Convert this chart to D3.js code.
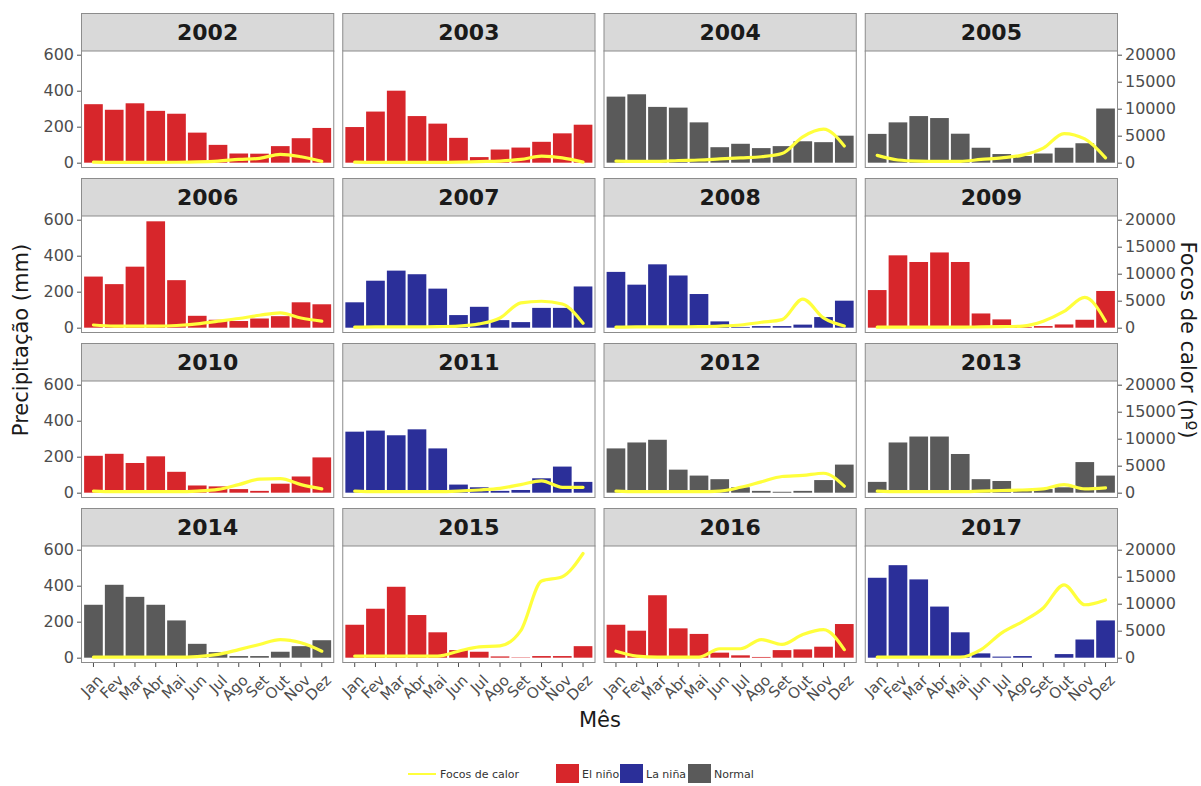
<!DOCTYPE html>
<html>
<head>
<meta charset="utf-8">
<script src="https://cdn.jsdelivr.net/npm/d3@7"></script>
<style>
  body { margin: 0; background: #ffffff; }
  svg text { font-family: "DejaVu Sans", Verdana, sans-serif; }
</style>
</head>
<body>
<svg id="chart" width="1201" height="786"></svg>
<script>
// Monthly rainfall (mm) and fire hotspots (count) per year, with the ENSO phase of each year.
const years = [2002, 2003, 2004, 2005, 2006, 2007, 2008, 2009, 2010, 2011, 2012, 2013, 2014, 2015, 2016, 2017];
const months = ["Jan", "Fev", "Mar", "Abr", "Mai", "Jun", "Jul", "Ago", "Set", "Out", "Nov", "Dez"];
const phases = ["El niño", "El niño", "Normal", "Normal", "El niño", "La niña", "La niña", "El niño",
                "El niño", "La niña", "Normal", "Normal", "Normal", "El niño", "El niño", "La niña"];
const phaseNames = ["El niño", "La niña", "Normal"];
const phaseColors = ["#d7262b", "#2b2f99", "#5a5a5a"];

const precipitation = [
  [325, 294, 330, 288, 272, 167, 99, 51, 50, 92, 136, 193],
  [198, 284, 400, 259, 217, 138, 31, 73, 84, 116, 163, 211],
  [367, 380, 310, 306, 224, 86, 105, 81, 92, 119, 114, 150],
  [160, 224, 259, 248, 161, 83, 48, 37, 51, 83, 108, 301],
  [284, 242, 339, 591, 264, 66, 44, 37, 51, 64, 141, 130],
  [141, 261, 317, 297, 217, 70, 116, 42, 31, 110, 110, 229],
  [310, 239, 352, 290, 187, 35, 4, 9, 9, 17, 59, 150],
  [209, 402, 365, 418, 365, 79, 46, 4, 9, 18, 44, 204],
  [205, 216, 165, 202, 116, 40, 35, 20, 10, 50, 90, 196],
  [339, 345, 319, 352, 246, 45, 30, 10, 15, 80, 145, 60],
  [246, 279, 294, 128, 95, 75, 30, 10, 5, 10, 70, 156],
  [60, 279, 312, 312, 215, 75, 65, 10, 20, 30, 170, 95],
  [294, 405, 338, 294, 207, 77, 31, 9, 9, 33, 64, 97],
  [183, 272, 394, 237, 141, 42, 33, 7, 2, 9, 9, 64],
  [183, 150, 347, 163, 132, 28, 13, 4, 42, 46, 61, 187],
  [444, 514, 435, 284, 141, 24, 6, 9, 0, 20, 101, 207]
];

const fireFoci = [
  [100, 50, 50, 50, 80, 150, 300, 600, 800, 1550, 1100, 250],
  [100, 50, 50, 50, 50, 100, 200, 300, 600, 1200, 900, 100],
  [300, 250, 250, 400, 500, 700, 900, 1100, 1700, 4800, 6200, 3100],
  [1350, 500, 300, 250, 250, 600, 900, 1400, 2700, 5400, 4400, 900],
  [500, 300, 300, 300, 400, 700, 1200, 1700, 2300, 2750, 1800, 1200],
  [100, 150, 150, 150, 200, 300, 700, 1800, 4600, 4900, 4400, 800],
  [100, 150, 150, 150, 200, 300, 500, 1000, 1500, 5300, 1800, 300],
  [100, 100, 100, 100, 100, 150, 200, 300, 1200, 3000, 5600, 1200],
  [300, 200, 200, 200, 200, 300, 600, 1500, 2500, 2600, 1500, 700],
  [300, 200, 200, 200, 200, 300, 500, 800, 1500, 2200, 1000, 1000],
  [300, 200, 200, 200, 200, 300, 1000, 2000, 3000, 3200, 3600, 1200],
  [300, 200, 200, 200, 200, 300, 400, 500, 700, 1500, 700, 900],
  [100, 100, 100, 100, 100, 200, 600, 1500, 2450, 3350, 2750, 1200],
  [300, 300, 300, 300, 300, 1200, 2000, 2200, 5000, 14200, 15000, 19300],
  [1200, 300, 100, 100, 100, 1650, 1650, 3350, 2450, 4300, 5200, 1500],
  [100, 100, 100, 100, 100, 1500, 4600, 6700, 9200, 13500, 9800, 10700]
];

const precipTicks = [0, 200, 400, 600];
const fireTicks = [0, 5000, 10000, 15000, 20000];

// Secondary axis: hotspot counts share the panel with rainfall through a fixed ratio.
const fireRatio = 20000 / 600;

// Facet grid geometry
const nCols = 4;
const gridLeft = 81, gridRight = 1118, gapX = 8;
const panelW = (gridRight - gridLeft - gapX * (nCols - 1)) / nCols;
const gridTop = 13, stripH = 38, panelH = 117, rowStep = 165;

const svg = d3.select("#chart");

const maxP = d3.max(precipitation.flat());
const pad = maxP * 0.05;
const y = d3.scaleLinear().domain([-pad, maxP + pad]).range([panelH, 0]);
const yFire = d3.scaleLinear().domain([-pad * fireRatio, (maxP + pad) * fireRatio]).range([panelH, 0]);
const x = d3.scaleBand().domain(months).range([0, panelW]).paddingInner(0.1).paddingOuter(0.15);
const color = d3.scaleOrdinal().domain(phaseNames).range(phaseColors);

const line = d3.line()
  .x((d, i) => x(months[i]) + x.bandwidth() / 2)
  .y(d => yFire(d))
  .curve(d3.curveMonotoneX);

years.forEach((yr, k) => {
  const col = k % nCols, row = Math.floor(k / nCols);
  const px = gridLeft + col * (panelW + gapX);
  const sy = gridTop + row * rowStep;
  const g = svg.append("g").attr("transform", `translate(${px},${sy})`);

  // strip
  g.append("rect").attr("x", 0.5).attr("y", 0.5).attr("width", panelW - 1).attr("height", stripH)
    .attr("fill", "#d9d9d9").attr("stroke", "#8c8c8c").attr("stroke-width", 1);
  g.append("text").attr("x", panelW / 2).attr("y", stripH / 2 + 8)
    .attr("text-anchor", "middle").attr("font-size", 22).attr("font-weight", "bold")
    .attr("fill", "#1a1a1a").text(yr);

  const p = g.append("g").attr("transform", `translate(0,${stripH})`);
  p.append("rect").attr("width", panelW).attr("height", panelH).attr("fill", "#ffffff");

  p.selectAll("rect.bar").data(precipitation[k]).join("rect").attr("class", "bar")
    .attr("x", (d, i) => x(months[i]))
    .attr("width", x.bandwidth())
    .attr("y", d => y(d))
    .attr("height", d => y(0) - y(d))
    .attr("fill", color(phases[k]));

  p.append("path").datum(fireFoci[k]).attr("d", line)
    .attr("fill", "none").attr("stroke", "#ffff3c").attr("stroke-width", 3.2)
    .attr("stroke-linejoin", "round").attr("stroke-linecap", "round");

  p.append("rect").attr("x", 0.5).attr("y", 0).attr("width", panelW - 1).attr("height", panelH - 0.5)
    .attr("fill", "none").attr("stroke", "#8c8c8c").attr("stroke-width", 1);

  const styleAxis = a => {
    a.select(".domain").remove();
    a.selectAll(".tick line").attr("stroke", "#4d4d4d");
    a.selectAll(".tick text").attr("fill", "#4d4d4d").attr("font-size", 16)
      .style("font-family", "'DejaVu Sans', Verdana, sans-serif");
  };

  if (col === 0) {
    p.append("g").call(d3.axisLeft(y).tickValues(precipTicks).tickSize(4).tickPadding(3)).call(styleAxis);
  }
  if (col === nCols - 1) {
    p.append("g").attr("transform", `translate(${panelW},0)`)
      .call(d3.axisRight(yFire).tickValues(fireTicks).tickFormat(d3.format("d")).tickSize(4).tickPadding(3))
      .call(styleAxis);
  }
  if (row === 3) {
    const ax = p.append("g").attr("transform", `translate(0,${panelH})`)
      .call(d3.axisBottom(x).tickSize(4).tickPadding(2)).call(styleAxis);
    ax.selectAll(".tick text").attr("font-size", 15)
      .attr("text-anchor", "end").attr("dy", 0)
      .attr("transform", "translate(6,14) rotate(-45)");
  }
});

// Axis titles
svg.append("text").attr("transform", "translate(28,340) rotate(-90)")
  .attr("text-anchor", "middle").attr("font-size", 21).attr("fill", "#1a1a1a").text("Precipitação (mm)");
svg.append("text").attr("transform", "translate(1181,340) rotate(90)")
  .attr("text-anchor", "middle").attr("font-size", 21).attr("fill", "#1a1a1a").text("Focos de calor (nº)");
svg.append("text").attr("x", 600).attr("y", 727)
  .attr("text-anchor", "middle").attr("font-size", 21).attr("fill", "#1a1a1a").text("Mês");

// Legend
const lg = svg.append("g").attr("font-size", 11).attr("fill", "#333333");
lg.append("line").attr("x1", 408).attr("x2", 436).attr("y1", 774).attr("y2", 774)
  .attr("stroke", "#ffff3c").attr("stroke-width", 2);
lg.append("text").attr("x", 440).attr("y", 778).text("Focos de calor");
const keys = [{x: 556, label: phaseNames[0]}, {x: 620, label: phaseNames[1]}, {x: 688, label: phaseNames[2]}];
keys.forEach((kk, i) => {
  lg.append("rect").attr("x", kk.x).attr("y", 764).attr("width", 23).attr("height", 19)
    .attr("fill", color(phaseNames[i]));
  lg.append("text").attr("x", kk.x + 26).attr("y", 778).text(kk.label);
});
</script>
</body>
</html>
